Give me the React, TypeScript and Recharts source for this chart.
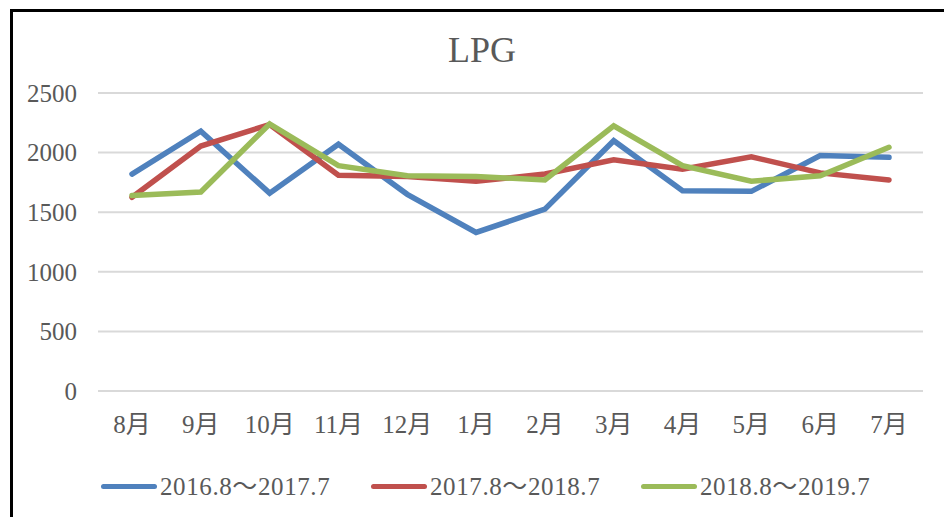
import { LineChart, Line, XAxis, YAxis, CartesianGrid } from 'recharts'

const months = ['8月', '9月', '10月', '11月', '12月', '1月', '2月', '3月', '4月', '5月', '6月', '7月']
const fy2016 = [1820, 2180, 1660, 2070, 1650, 1330, 1525, 2100, 1680, 1675, 1975, 1960]
const fy2017 = [1625, 2055, 2235, 1810, 1800, 1760, 1820, 1940, 1860, 1965, 1830, 1770]
const fy2018 = [1640, 1670, 2240, 1890, 1805, 1800, 1770, 2225, 1890, 1760, 1805, 2045]
const yTicks = [0, 500, 1000, 1500, 2000, 2500]

const seriesNames = ['2016.8～2017.7', '2017.8～2018.7', '2018.8～2019.7']
const seriesColors = ['#4f81bd', '#c0504d', '#9bbb59']
const seriesKeys = ['a', 'b', 'c']

const data = months.map((m, i) => ({ month: m, a: fy2016[i], b: fy2017[i], c: fy2018[i] }))

const font = "'Liberation Serif', 'Noto Sans CJK JP', serif"
const textColor = '#595959'

export default function App() {
  return (
    <div style={{ position: 'absolute', left: 0, top: 0, width: 944, height: 517, background: '#fff', overflow: 'hidden', fontFamily: font }}>
      <div style={{ position: 'absolute', left: 10, top: 9, width: 960, height: 540, borderLeft: '3px solid #000', borderTop: '3px solid #000' }} />
      <div style={{ position: 'absolute', left: 382, top: 32, width: 200, textAlign: 'center', fontSize: 36, lineHeight: '36px', color: textColor }}>
        LPG
      </div>
      <div style={{ position: 'absolute', left: 0, top: 0 }}>
        <LineChart width={944} height={517} data={data} margin={{ top: 93, right: 21, left: 18, bottom: 96 }}>
          <CartesianGrid vertical={false} stroke="#d9d9d9" strokeWidth={2} />
          <XAxis
            dataKey="month"
            axisLine={false}
            tickLine={false}
            tickMargin={18}
            padding={{ left: 34, right: 34 }}
            interval={0}
            tick={{ fontSize: 25, fill: textColor, fontFamily: font }}
          />
          <YAxis
            domain={[0, 2500]}
            ticks={yTicks}
            width={80}
            axisLine={false}
            tickLine={false}
            tickMargin={15}
            tick={{ fontSize: 25, fill: textColor, fontFamily: font }}
          />
          {seriesKeys.map((k, i) => (
            <Line
              key={k}
              type="linear"
              dataKey={k}
              name={seriesNames[i]}
              stroke={seriesColors[i]}
              strokeWidth={5.5}
              strokeLinecap="round"
              dot={false}
              activeDot={false}
              isAnimationActive={false}
            />
          ))}
        </LineChart>
      </div>
      {seriesNames.map((name, i) => (
        <div key={name} style={{ position: 'absolute', left: 101 + i * 270, top: 474, display: 'flex', alignItems: 'center', height: 25 }}>
          <div style={{ width: 56, height: 5.5, borderRadius: 3, background: seriesColors[i], marginRight: 3 }} />
          <span style={{ fontSize: 25, lineHeight: '25px', letterSpacing: 0.6, color: textColor, whiteSpace: 'nowrap' }}>{name}</span>
        </div>
      ))}
    </div>
  )
}
